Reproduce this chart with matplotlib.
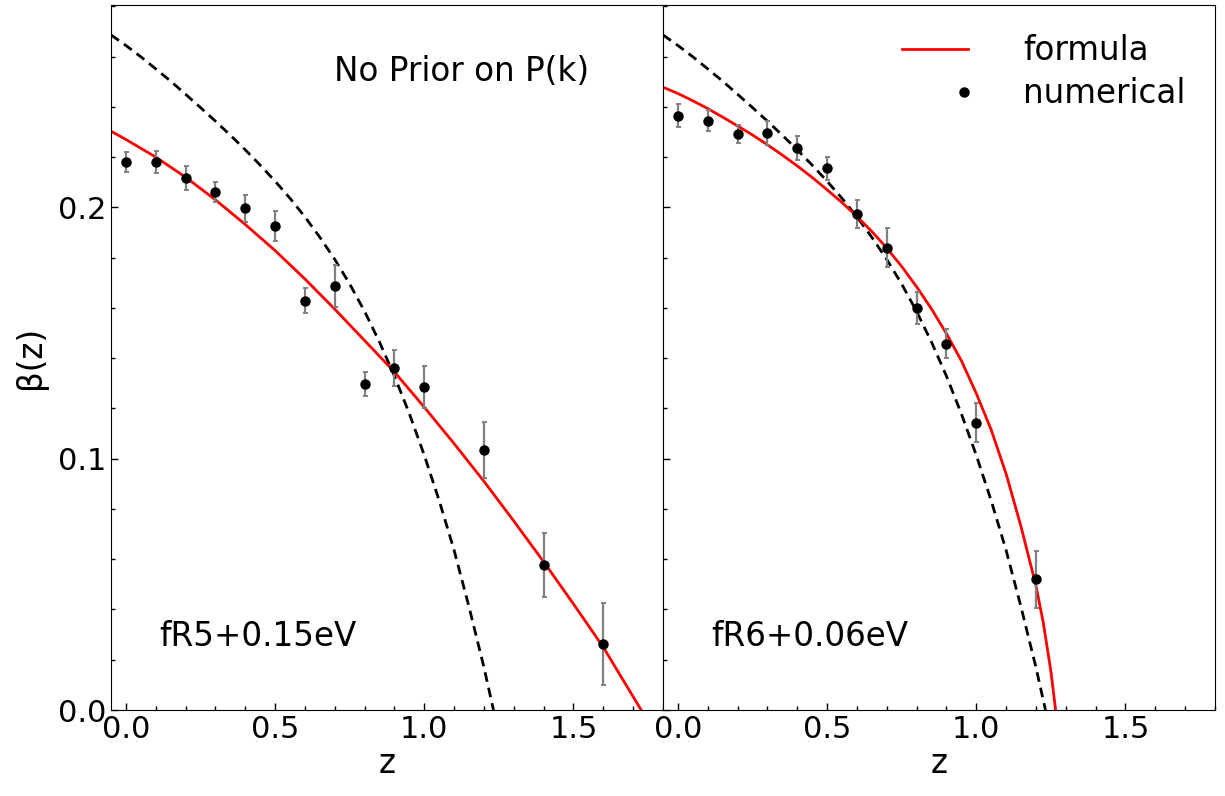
import matplotlib
matplotlib.use("Agg")
import matplotlib.pyplot as plt
from matplotlib.ticker import MultipleLocator
from matplotlib.legend_handler import HandlerLine2D
from matplotlib.lines import Line2D

# ---- data: left panel (fR5+0.15eV) ----
z_pts_left = [0.0, 0.1, 0.2, 0.3, 0.4, 0.5, 0.6, 0.7, 0.8, 0.9, 1.0, 1.2, 1.4, 1.6]
beta_pts_left = [0.218, 0.218, 0.2117, 0.206, 0.1996, 0.1926, 0.1628, 0.1687,
                 0.1297, 0.136, 0.1285, 0.1035, 0.0577, 0.0263]
err_pts_left = [0.004, 0.0045, 0.0048, 0.004, 0.0054, 0.006, 0.005, 0.0084,
                0.0048, 0.0072, 0.0084, 0.011, 0.0129, 0.0162]

z_formula_left = [-0.05, 0.0, 0.1, 0.2, 0.3, 0.4, 0.5, 0.6, 0.7, 0.8, 0.9,
                  1.0, 1.1, 1.2, 1.3, 1.4, 1.5, 1.6, 1.727]
beta_formula_left = [0.2303, 0.2270, 0.2200, 0.2120, 0.2030, 0.1932, 0.1828,
                     0.1715, 0.1595, 0.1470, 0.1345, 0.1205, 0.1060, 0.0910,
                     0.0752, 0.0590, 0.0422, 0.0250, 0.0]

# ---- data: right panel (fR6+0.06eV) ----
z_pts_right = [0.0, 0.1, 0.2, 0.3, 0.4, 0.5, 0.6, 0.7, 0.8, 0.9, 1.0, 1.2]
beta_pts_right = [0.2365, 0.2345, 0.2293, 0.2297, 0.2236, 0.2156, 0.1972,
                  0.184, 0.1598, 0.1458, 0.1143, 0.052]
err_pts_right = [0.0047, 0.0043, 0.0036, 0.0048, 0.0046, 0.0046, 0.0056,
                 0.0076, 0.0064, 0.0058, 0.0078, 0.0113]

z_formula_right = [-0.05, 0.0, 0.05, 0.1, 0.15, 0.2, 0.25, 0.3, 0.35, 0.4,
                   0.45, 0.5, 0.55, 0.6, 0.65, 0.7, 0.75, 0.8, 0.85, 0.9,
                   0.95, 1.0, 1.05, 1.1, 1.15, 1.2, 1.225, 1.25, 1.266]
beta_formula_right = [0.2478, 0.2453, 0.2424, 0.2393, 0.2359, 0.2324, 0.2288,
                      0.2249, 0.2208, 0.2165, 0.2119, 0.2070, 0.2019, 0.1964,
                      0.1904, 0.1838, 0.1765, 0.1684, 0.1596, 0.1498, 0.1390,
                      0.1260, 0.1115, 0.0940, 0.0730, 0.0495, 0.0345, 0.0155, 0.0]

# ---- dashed reference curve (both panels) ----
z_dashed = [-0.05, 0.0, 0.05, 0.1, 0.15, 0.2, 0.25, 0.3, 0.35, 0.4, 0.45,
            0.5, 0.55, 0.6, 0.65, 0.7, 0.75, 0.8, 0.85, 0.9, 0.95, 1.0,
            1.05, 1.1, 1.15, 1.2, 1.232]
beta_dashed = [0.2686, 0.2644, 0.2599, 0.2551, 0.2502, 0.2450, 0.2397, 0.2343,
               0.2287, 0.2229, 0.2168, 0.2104, 0.2036, 0.1962, 0.1881, 0.1793,
               0.1695, 0.1586, 0.1464, 0.1329, 0.1179, 0.1014, 0.0833, 0.0636,
               0.0410, 0.0170, 0.0]

panel_labels = ["fR5+0.15eV", "fR6+0.06eV"]
title_text = "No Prior on P(k)"
legend_labels = ["formula", "numerical"]

plt.rcParams['font.family'] = ['DejaVu Sans']

fig = plt.figure(figsize=(12.25, 7.96), dpi=100)
fig.subplots_adjust(left=0.0906, right=0.9918, top=0.9937, bottom=0.108, wspace=0)
ax1 = fig.add_subplot(1, 2, 1)
ax2 = fig.add_subplot(1, 2, 2, sharey=ax1)

panels = [
    (ax1, z_pts_left, beta_pts_left, err_pts_left, z_formula_left, beta_formula_left),
    (ax2, z_pts_right, beta_pts_right, err_pts_right, z_formula_right, beta_formula_right),
]

TICK_FS = 22
TEXT_FS = 23.5

handles = None
for i, (ax, zp, bp, ep, zf, bf) in enumerate(panels):
    ax.plot(z_dashed, beta_dashed, color='black', ls='--', lw=2.0, dashes=(3.5, 2.2))
    lf, = ax.plot(zf, bf, color='red', lw=2.0)
    ax.errorbar(zp, bp, yerr=ep, fmt='o', color='black', ms=6.5,
                ecolor='gray', elinewidth=1.6, capsize=1.8, capthick=1.4, zorder=3)
    ax.set_xlim(-0.05, 1.8)
    ax.set_ylim(0.0, 0.2805)
    ax.xaxis.set_major_locator(MultipleLocator(0.5))
    ax.xaxis.set_minor_locator(MultipleLocator(0.1))
    ax.yaxis.set_major_locator(MultipleLocator(0.1))
    ax.yaxis.set_minor_locator(MultipleLocator(0.02))
    ax.tick_params(which='both', direction='in', top=False, right=False, labelsize=TICK_FS)
    ax.tick_params(which='major', length=5, width=1)
    ax.tick_params(which='minor', length=3, width=1)
    ax.set_xlabel("z", fontsize=TEXT_FS, labelpad=2)
    ax.text(0.088, 0.105, panel_labels[i], transform=ax.transAxes,
            fontsize=TEXT_FS, ha='left', va='center')
    if i == 0:
        handles = (lf, Line2D([], [], marker='o', ls='none', color='black', ms=6.5))

ax1.set_ylabel("β(z)", fontsize=TEXT_FS, labelpad=8)
ax1.text(0.636, 0.905, title_text, transform=ax1.transAxes,
         fontsize=TEXT_FS, ha='center', va='center')
plt.setp(ax2.get_yticklabels(), visible=False)


class RightMarkerHandler(HandlerLine2D):
    def create_artists(self, legend, orig_handle, xdescent, ydescent, width,
                       height, fontsize, trans):
        x = -xdescent + width * 0.95
        y = (height - ydescent) / 2.0
        m = Line2D([x], [y], marker='o', ls='none', color='black',
                   ms=orig_handle.get_markersize(), transform=trans)
        return [m]


ax2.legend(handles, legend_labels, loc='upper right', frameon=False,
           fontsize=TEXT_FS, handletextpad=1.7, labelspacing=0.3,
           handler_map={handles[1]: RightMarkerHandler()})

fig.savefig("out.png", dpi=100)
